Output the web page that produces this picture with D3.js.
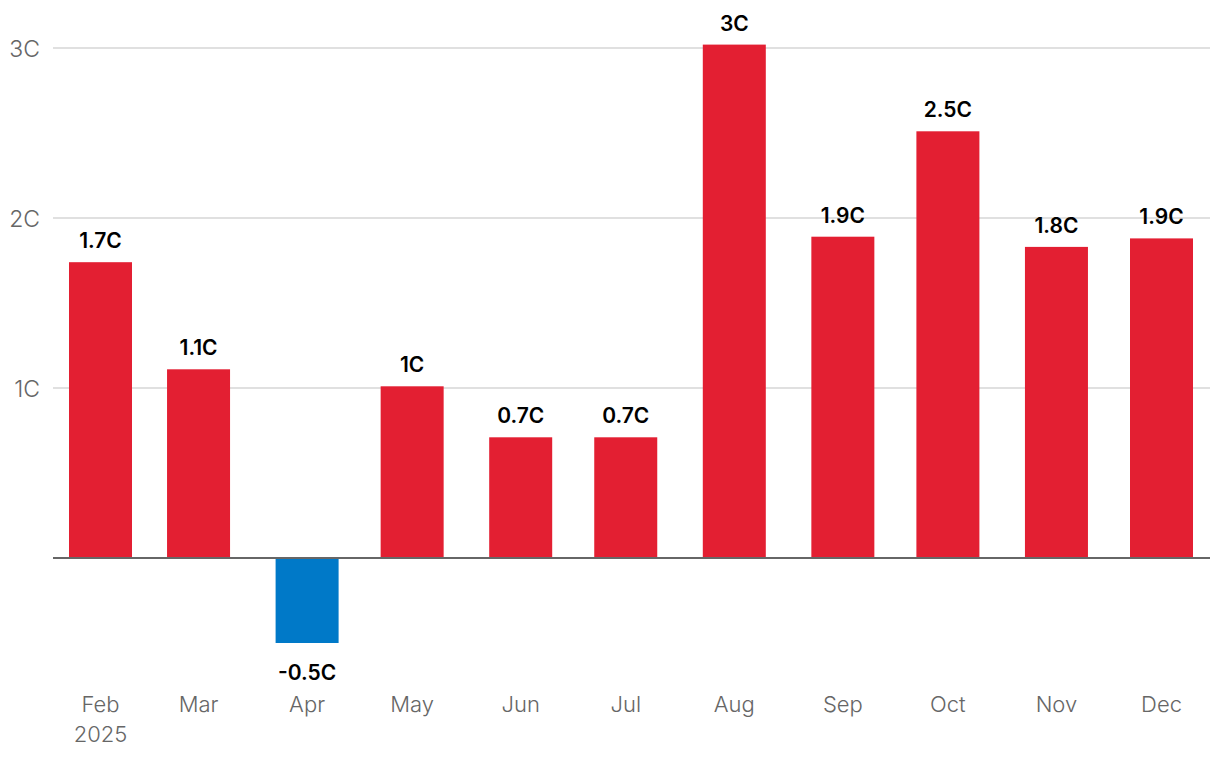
<!DOCTYPE html>
<html><head><meta charset="utf-8">
<script src="https://cdn.jsdelivr.net/npm/d3@7"></script>
<style>
body{margin:0;background:#fff;}
svg{display:block;}
</style></head>
<body>
<svg id="chart" width="1220" height="760"></svg>
<script>
const months = ["2025-02-01","2025-03-01","2025-04-01","2025-05-01","2025-06-01","2025-07-01","2025-08-01","2025-09-01","2025-10-01","2025-11-01","2025-12-01"];
const monthLabels = ["Feb","Mar","Apr","May","Jun","Jul","Aug","Sep","Oct","Nov","Dec"];
const values = [1.74, 1.11, -0.5, 1.01, 0.71, 0.71, 3.02, 1.89, 2.51, 1.83, 1.88];
const valueLabels = ["1.7C","1.1C","-0.5C","1C","0.7C","0.7C","3C","1.9C","2.5C","1.8C","1.9C"];
const yTicks = [1, 2, 3];
const yTickLabels = ["1C","2C","3C"];

const data = months.map((m,i)=>({date:new Date(m+"T00:00:00Z"), label:monthLabels[i], v:values[i], t:valueLabels[i]}));

const svg = d3.select("#chart");
const x = d3.scaleUtc().domain([data[0].date, data[data.length-1].date]).range([100.5, 1161.5]);
const y = d3.scaleLinear().domain([0,3]).range([558,48]);
const barW = 63;

// gridlines
svg.append("g").selectAll("line").data(yTicks).join("line")
  .attr("x1",53).attr("x2",1210)
  .attr("y1",d=>y(d)).attr("y2",d=>y(d))
  .attr("stroke","#d6d6d6").attr("stroke-width",1.5);

svg.append("g").selectAll("text").data(yTicks).join("text")
  .attr("x",40).attr("y",d=>y(d)+8.5)
  .attr("text-anchor","end")
  .attr("font-family","Inter, sans-serif").attr("font-weight",300)
  .attr("font-size",23).attr("fill","#666")
  .text((d,i)=>yTickLabels[i]);

// bars
svg.append("g").selectAll("rect").data(data).join("rect")
  .attr("x",d=>x(d.date)-barW/2).attr("width",barW)
  .attr("y",d=>y(Math.max(0,d.v)))
  .attr("height",d=>Math.abs(y(d.v)-y(0)))
  .attr("fill",d=>d.v<0?"#0079c8":"#e31f32");

// zero line
svg.append("line").attr("x1",53).attr("x2",1210).attr("y1",y(0)).attr("y2",y(0))
  .attr("stroke","#666").attr("stroke-width",2);

// value labels
svg.append("g").selectAll("text").data(data).join("text")
  .attr("x",d=>x(d.date))
  .attr("y",d=>d.v<0? y(d.v)+37 : y(d.v)-14)
  .attr("text-anchor","middle")
  .attr("font-family","Inter, sans-serif").attr("font-weight",600)
  .attr("font-size",21).attr("fill","#000")
  .text(d=>d.t);

// x labels
svg.append("g").selectAll("text").data(data).join("text")
  .attr("x",d=>x(d.date)).attr("y",712)
  .attr("text-anchor","middle")
  .attr("font-family","Inter, sans-serif").attr("font-weight",300)
  .attr("font-size",22).attr("fill","#666")
  .text(d=>d.label);
svg.append("text").attr("x",x(data[0].date)).attr("y",742)
  .attr("text-anchor","middle")
  .attr("font-family","Inter, sans-serif").attr("font-weight",300)
  .attr("font-size",22).attr("fill","#666")
  .text("2025");
</script>
</body></html>
